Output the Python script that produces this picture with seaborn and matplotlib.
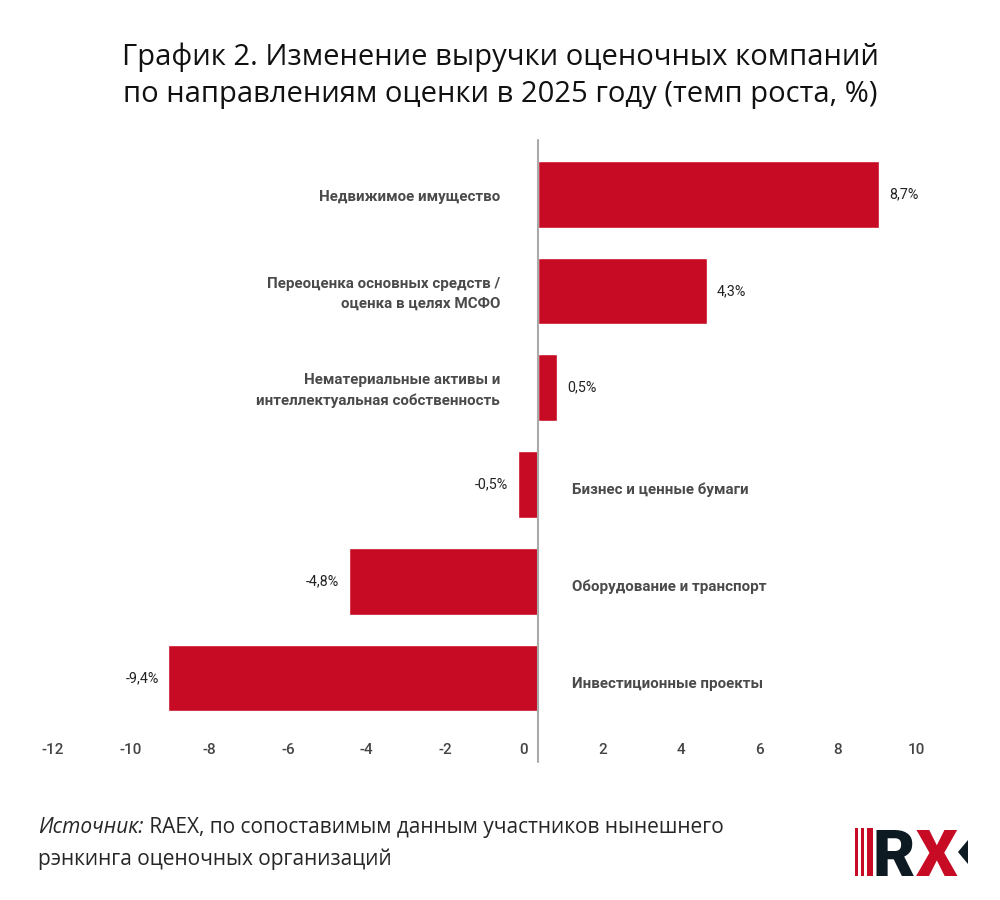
import pandas as pd
import matplotlib.pyplot as plt
import matplotlib.transforms as mtransforms
from matplotlib.patches import Rectangle, Polygon
import seaborn as sns

categories = [
    'Недвижимое имущество',
    'Переоценка основных средств /\nоценка в целях МСФО',
    'Нематериальные активы и\nинтеллектуальная собственность',
    'Бизнес и ценные бумаги',
    'Оборудование и транспорт',
    'Инвестиционные проекты',
]
values = [8.7, 4.3, 0.5, -0.5, -4.8, -9.4]
value_labels = ['8,7%', '4,3%', '0,5%', '-0,5%', '-4,8%', '-9,4%']
x_ticks = [-12, -10, -8, -6, -4, -2, 0, 2, 4, 6, 8, 10]

RED = '#C80B24'
TEXT_FONT = ['Open Sans', 'DejaVu Sans']

sns.set_style('white')
plt.rcParams['font.family'] = ['Roboto', 'DejaVu Sans']

df = pd.DataFrame({'cat': categories, 'val': values})

fig = plt.figure(figsize=(10, 9), dpi=100)
ax = fig.add_axes([0.027, 0.1822, 0.931, 0.6622])

sns.barplot(data=df, y='cat', x='val', orient='h', color=RED,
            saturation=1, width=0.69, ax=ax)

ax.set_xlim(-13, 10.7)
ax.set_ylim(5.6, -0.56)
for s in ax.spines.values():
    s.set_visible(False)
ax.set_xlabel('')
ax.set_ylabel('')
ax.set_yticks([])
ax.set_xticks(x_ticks)
ax.set_xticklabels([str(t) for t in x_ticks])
ax.tick_params(axis='x', length=0, pad=5, labelsize=11, labelcolor='#444444')
# подписи оси сдвинуты влево, как в оригинале
shift = mtransforms.ScaledTranslation(-14 / 100, 0, fig.dpi_scale_trans)
for lbl in ax.get_xticklabels():
    lbl.set_transform(lbl.get_transform() + shift)
    lbl.set_fontweight('medium')

ax.axvline(0, ymin=-0.044, ymax=1, color='#aaaaaa', linewidth=1.5, clip_on=False)

for i, (v, lab, cat) in enumerate(zip(values, value_labels, categories)):
    if v >= 0:
        ax.annotate(lab, (v, i), xytext=(7, 0), textcoords='offset points',
                    ha='left', va='center', fontsize=10.3, color='#222222')
        ax.annotate(cat, (0, i), xytext=(-27, -2), textcoords='offset points',
                    ha='right', va='center', fontsize=10.9, fontweight='bold',
                    color='#4a4a4a', linespacing=1.55, multialignment='right')
    else:
        ax.annotate(lab, (v, i), xytext=(-7, 0), textcoords='offset points',
                    ha='right', va='center', fontsize=10.3, color='#222222')
        ax.annotate(cat, (0, i), xytext=(25, -4), textcoords='offset points',
                    ha='left', va='center', fontsize=10.9, fontweight='bold',
                    color='#4a4a4a')

fig.text(0.5, 0.916, 'График 2. Изменение выручки оценочных компаний\n'
         'по направлениям оценки в 2025 году (темп роста, %)',
         ha='center', va='center', fontsize=21, family=TEXT_FONT,
         color='#111111', linespacing=1.38)

t1 = fig.text(0.038, 1 - 833 / 900, 'Источник:', fontsize=15, style='italic',
              family=TEXT_FONT, va='baseline')
fig.add_artist(plt.Annotation(' RAEX, по сопоставимым данным участников нынешнего',
                              xy=(1, 0), xycoords=t1, va='bottom',
                              fontsize=15, family=TEXT_FONT))
fig.text(0.038, 1 - 865 / 900, 'рэнкинга оценочных организаций', fontsize=15,
         family=TEXT_FONT, va='baseline')

# логотип RX
for x0, w in [(855, 3), (861, 3), (867, 6)]:
    fig.add_artist(Rectangle((x0 / 1000, 1 - 876 / 900), w / 1000, 48 / 900,
                             transform=fig.transFigure, color=RED, lw=0))
r_txt = fig.text(0.873, 1 - 876 / 900, 'R', fontsize=47, fontweight='black',
                 family=['Roboto', 'DejaVu Sans'], color='#0d1a21', va='baseline')
x_txt = fig.add_artist(plt.Annotation('X', xy=(1, 0), xycoords=r_txt, va='bottom',
                                      xytext=(0.5, 0), textcoords='offset points',
                                      fontsize=47, fontweight='black',
                                      family=['Roboto', 'DejaVu Sans'], color=RED))
fig.add_artist(Polygon([(958 / 1000, 1 - 852 / 900), (968 / 1000, 1 - 840 / 900),
                        (968 / 1000, 1 - 864 / 900)], closed=True,
                       transform=fig.transFigure, color='#0d1a21', lw=0))

fig.savefig('out.png', dpi=100)
